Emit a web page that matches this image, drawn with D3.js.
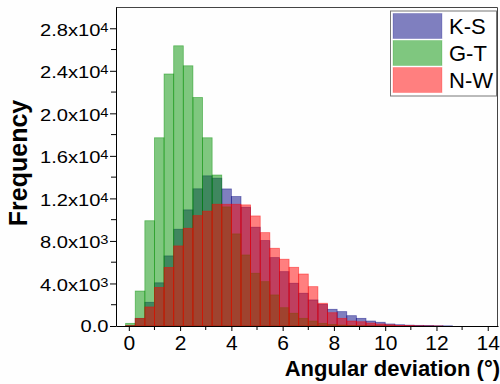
<!DOCTYPE html>
<html>
<head>
<meta charset="utf-8">
<script src="https://cdn.jsdelivr.net/npm/d3@7"></script>
<style>
  body { margin: 0; background: #fefefe; }
  svg { display: block; font-family: "Liberation Sans", Arial, sans-serif; }
</style>
</head>
<body>
<div id="chart"></div>
<script>
// histogram bins: left edge of first bin and bin width (degrees)
const binStart = -0.125;
const binWidth = 0.375;

const seriesNames = ["K-S", "G-T", "N-W"];
const seriesColors = ["#000080", "#009000", "#ff0000"];

// counts per bin
const ksCounts = [40, 720, 2230, 4060, 6590, 9100, 10920, 12900, 14120, 13900, 12890, 12170,
    11170, 9290, 8030, 6430, 5110, 4020, 3080, 2450, 2040, 1570, 1350, 970, 720, 470, 350,
    190, 120, 80, 60, 40, 25, 15];
const gtCounts = [250, 3290, 9900, 17700, 23700, 26350, 24470, 21490, 17700, 14200, 11200, 8660,
    6680, 4960, 4170, 2920, 1720, 1200, 720, 470, 250, 150, 90, 50, 30, 15, 10, 5];
const nwCounts = [30, 700, 1790, 3620, 5500, 7530, 9190, 10380, 10800, 11450, 11450, 11450,
    11390, 10350, 8780, 7310, 6280, 5520, 4890, 3700, 2140, 1250, 720, 470, 400, 280, 190,
    110, 60, 40, 20, 10, 5];

const xTicks = [0, 2, 4, 6, 8, 10, 12, 14];
const xMinorTicks = [1, 3, 5, 7, 9, 11, 13];
const yTicks = [0, 4000, 8000, 12000, 16000, 20000, 24000, 28000];
const yMinorTicks = [2000, 6000, 10000, 14000, 18000, 22000, 26000];
const yTickLabels = ["0.0", "4.0x10^3", "8.0x10^3", "1.2x10^4", "1.6x10^4", "2.0x10^4", "2.4x10^4", "2.8x10^4"];

const xTitle = "Angular deviation (°)";
const yTitle = "Frequency";

const width = 500, height = 384;
const margin = {top: 7, right: 2, bottom: 58, left: 116};
const innerW = width - margin.left - margin.right;
const innerH = height - margin.top - margin.bottom;

const svg = d3.select("#chart").append("svg")
    .attr("width", width)
    .attr("height", height);

const g = svg.append("g")
    .attr("transform", "translate(" + margin.left + "," + margin.top + ")");

const x = d3.scaleLinear().domain([-0.5, 14.4]).range([0, innerW]);
const y = d3.scaleLinear().domain([0, 30000]).range([innerH, 0]);

// bars, drawn in legend order so N-W ends up on top
const series = [ksCounts, gtCounts, nwCounts];
series.forEach((counts, si) => {
    const bins = counts.map((c, i) => ({x0: binStart + i * binWidth, x1: binStart + (i + 1) * binWidth, c: c}));
    g.append("g")
        .selectAll("rect")
        .data(bins.filter(d => d.c > 0))
        .join("rect")
        .attr("x", d => x(d.x0))
        .attr("width", d => x(d.x1) - x(d.x0))
        .attr("y", d => y(d.c))
        .attr("height", d => y(0) - y(d.c))
        .attr("fill", seriesColors[si])
        .attr("fill-opacity", 0.5)
        .attr("stroke", seriesColors[si])
        .attr("stroke-opacity", 0.5)
        .attr("stroke-width", 0.8);
});

// frame (top and right)
g.append("path")
    .attr("d", "M0,0.5H" + (innerW - 0.5) + "V" + innerH)
    .attr("fill", "none")
    .attr("stroke", "#444")
    .attr("stroke-width", 1);

// axes
const xAxis = g.append("g")
    .attr("transform", "translate(0," + innerH + ")")
    .call(d3.axisBottom(x).tickValues(xTicks).tickSize(5).tickSizeOuter(0).tickPadding(4));
xAxis.append("g")
    .selectAll("line")
    .data(xMinorTicks)
    .join("line")
    .attr("x1", d => x(d)).attr("x2", d => x(d))
    .attr("y1", 0).attr("y2", 4)
    .attr("stroke", "#000");
xAxis.selectAll(".tick text")
    .attr("font-size", 21)
    .attr("fill", "#000")
    .attr("font-family", "Liberation Sans, Arial, sans-serif");

const yAxis = g.append("g")
    .call(d3.axisLeft(y).tickValues(yTicks).tickSize(6).tickSizeOuter(0).tickFormat(""));
yAxis.append("g")
    .selectAll("line")
    .data(yMinorTicks)
    .join("line")
    .attr("x1", 0).attr("x2", -5)
    .attr("y1", d => y(d)).attr("y2", d => y(d))
    .attr("stroke", "#000");
xAxis.select(".domain").attr("stroke", "#000");
yAxis.select(".domain").attr("stroke", "#000");

// y tick labels with superscript exponents (the source font is drawn a bit wide)
yTicks.forEach((v, i) => {
    const parts = yTickLabels[i].split("^");
    const t = g.append("text")
        .attr("transform", "translate(-7.5," + (y(v) + (parts[1] ? 7.5 : 6)) + ") scale(1.22,1)")
        .attr("text-anchor", "end")
        .attr("font-size", 16.5)
        .attr("fill", "#000")
        .text(parts[0]);
    if (parts[1]) {
        t.append("tspan")
            .attr("font-size", 12)
            .attr("dy", -4)
            .text(parts[1]);
    }
});

// axis titles
svg.append("text")
    .attr("x", 500)
    .attr("y", 376)
    .attr("text-anchor", "end")
    .attr("font-size", 22)
    .attr("font-weight", "bold")
    .text(xTitle);

svg.append("text")
    .attr("transform", "translate(27,163) rotate(-90)")
    .attr("text-anchor", "middle")
    .attr("font-size", 25)
    .attr("font-weight", "bold")
    .text(yTitle);

// legend
const legend = svg.append("g").attr("transform", "translate(390,10.5)");
legend.append("rect")
    .attr("x", 0.5).attr("y", 0.5)
    .attr("width", 106).attr("height", 85)
    .attr("fill", "#fff")
    .attr("stroke", "#777")
    .attr("stroke-width", 1);
const rows = legend.selectAll(".row")
    .data(seriesNames)
    .join("g")
    .attr("class", "row")
    .attr("transform", (d, i) => "translate(3," + (3 + i * 27) + ")");
rows.append("rect")
    .attr("width", 49).attr("height", 25)
    .attr("fill", (d, i) => seriesColors[i])
    .attr("fill-opacity", 0.5)
    .attr("stroke", (d, i) => seriesColors[i])
    .attr("stroke-opacity", 0.2);
rows.append("text")
    .attr("x", 56)
    .attr("y", 20.5)
    .attr("font-size", 22)
    .attr("fill", "#000")
    .text(d => d);
</script>
</body>
</html>
